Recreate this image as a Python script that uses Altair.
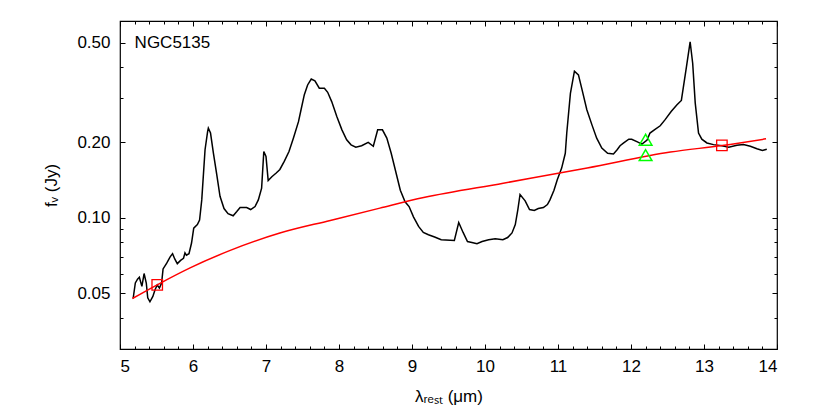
import altair as alt
import pandas as pd

# Spectrum (black)
spec_x = [5.18, 5.21, 5.24, 5.265, 5.30, 5.33, 5.36, 5.38, 5.41, 5.45, 5.48, 5.51, 5.54, 5.57,
          5.59, 5.64, 5.685, 5.72, 5.75, 5.785, 5.83, 5.87, 5.89, 5.91, 5.945, 5.98, 6.01, 6.06,
          6.09, 6.12, 6.165, 6.20, 6.21, 6.24, 6.28, 6.325, 6.37, 6.425, 6.48, 6.55, 6.60, 6.645,
          6.735, 6.79, 6.85, 6.895, 6.94, 6.97, 7.00, 7.03, 7.08, 7.14, 7.19, 7.25, 7.315, 7.375,
          7.445, 7.48, 7.525, 7.57, 7.62, 7.67, 7.73, 7.80, 7.845, 7.90, 7.97, 8.04, 8.105, 8.165,
          8.23, 8.31, 8.40, 8.47, 8.53, 8.595, 8.655, 8.715, 8.77, 8.84, 8.905, 8.96, 9.02, 9.09,
          9.155, 9.225, 9.31, 9.40, 9.58, 9.64, 9.70, 9.76, 9.82, 9.89, 9.96, 10.05, 10.14, 10.245,
          10.31, 10.37, 10.415, 10.45, 10.48, 10.55, 10.61, 10.675, 10.73, 10.80, 10.855, 10.89,
          10.945, 10.99, 11.05, 11.10, 11.12, 11.17, 11.225, 11.28, 11.33, 11.395, 11.465, 11.53,
          11.60, 11.68, 11.76, 11.81, 11.85, 11.90, 11.97, 12.01, 12.08, 12.15, 12.22, 12.26,
          12.32, 12.40, 12.465, 12.55, 12.63, 12.69, 12.76, 12.81, 12.845, 12.88, 12.925, 12.97,
          13.04, 13.13, 13.245, 13.34, 13.45, 13.54, 13.635, 13.725, 13.80, 13.86]
spec_y = [0.0477, 0.055, 0.057, 0.058, 0.0533, 0.060, 0.055, 0.048, 0.0463, 0.0486, 0.0517, 0.054,
          0.0525, 0.055, 0.0626, 0.066, 0.0698, 0.072, 0.0686, 0.0657, 0.0677, 0.069, 0.0725, 0.071,
          0.072, 0.0794, 0.091, 0.094, 0.098, 0.118, 0.187, 0.221, 0.228, 0.218, 0.181, 0.149, 0.122,
          0.109, 0.104, 0.102, 0.106, 0.110, 0.110, 0.108, 0.111, 0.118, 0.1315, 0.184, 0.176, 0.141,
          0.146, 0.151, 0.156, 0.168, 0.184, 0.208, 0.242, 0.270, 0.310, 0.339, 0.358, 0.352, 0.329,
          0.329, 0.317, 0.291, 0.2536, 0.2245, 0.2048, 0.1956, 0.1915, 0.194, 0.200, 0.193, 0.2245,
          0.2245, 0.208, 0.181, 0.156, 0.129, 0.116, 0.111, 0.101, 0.0925, 0.0875, 0.0857, 0.0839,
          0.0818, 0.0813, 0.0959, 0.0875, 0.0805, 0.0798, 0.0789, 0.0805, 0.0818, 0.0825, 0.0818,
          0.0835, 0.0871, 0.094, 0.108, 0.124, 0.117, 0.108, 0.107, 0.109, 0.110, 0.113, 0.118,
          0.129, 0.142, 0.158, 0.181, 0.218, 0.314, 0.385, 0.372, 0.324, 0.270, 0.235, 0.208,
          0.190, 0.181, 0.180, 0.187, 0.194, 0.199, 0.206, 0.206, 0.2016, 0.197, 0.2045, 0.218,
          0.2245, 0.233, 0.246, 0.2655, 0.2825, 0.294, 0.401, 0.504, 0.414, 0.287, 0.218, 0.206,
          0.199, 0.196, 0.194, 0.1915, 0.195, 0.196, 0.193, 0.1886, 0.1857, 0.188]

# Continuum model (red)
model_x = [5.17, 5.51, 5.96, 6.51, 7.19, 7.88, 8.56, 9.16, 10.25, 11.40, 12.54, 13.25, 13.85]
model_y = [0.0477, 0.0541, 0.0632, 0.0742, 0.0870, 0.0977, 0.1094, 0.1205, 0.1375, 0.158, 0.183,
           0.1945, 0.2067]

# Photometry points
sq_x = [5.51, 13.245]
sq_y = [0.0541, 0.1945]
tri_x = [12.2, 12.2]
tri_y = [0.205, 0.178]

label_x = [5.2]
label_y = [0.5]
label_text = ["NGC5135"]

x_major = list(range(5, 15))
x_minor = [round(5 + 0.2 * i, 1) for i in range(46) if i % 5 != 0]
y_major = [0.05, 0.1, 0.2, 0.5]
y_minor = [0.04, 0.06, 0.07, 0.08, 0.09, 0.3, 0.4]

spec_df = pd.DataFrame({"x": spec_x, "y": spec_y})
model_df = pd.DataFrame({"x": model_x, "y": model_y})
sq_df = pd.DataFrame({"x": sq_x, "y": sq_y})
tri_df = pd.DataFrame({"x": tri_x, "y": tri_y})
lab_df = pd.DataFrame({"x": label_x, "y": label_y, "t": label_text})

xs = alt.Scale(domain=[5, 14], nice=False, zero=False)
ys = alt.Scale(type="log", domain=[0.03, 0.61], nice=False)

FONT = "Liberation Sans"


def tick_axis(orient, values, size):
    return alt.Axis(orient=orient, values=values, tickSize=size, offset=-size, labels=False,
                    domain=False, grid=False, title=None, tickColor="black", tickWidth=1)


x_lab_axis = alt.Axis(orient="bottom", values=x_major, ticks=False, domain=False, grid=False,
                      labelFontSize=17, labelFont=FONT, labelColor="black", labelPadding=9,
                      format="d", title="λᵣₑₛₜ (μm)", titleFont=FONT, titleFontSize=17,
                      titleFontWeight="normal", titleColor="black", titlePadding=14)
y_lab_axis = alt.Axis(orient="left", values=y_major, ticks=False, domain=False, grid=False,
                      labelFontSize=17, labelFont=FONT, labelColor="black", labelPadding=10,
                      format=".2f", title="fᵥ (Jy)", titleFont=FONT, titleFontSize=17,
                      titleFontWeight="normal", titleColor="black", titlePadding=16)

spec = alt.Chart(spec_df).mark_line(color="black", strokeWidth=1.5).encode(
    x=alt.X("x:Q", scale=xs, axis=x_lab_axis),
    y=alt.Y("y:Q", scale=ys, axis=y_lab_axis),
)

model = alt.Chart(model_df).mark_line(color="red", strokeWidth=1.5, interpolate="monotone").encode(
    x=alt.X("x:Q", scale=xs, axis=tick_axis("bottom", x_major, 5)),
    y=alt.Y("y:Q", scale=ys, axis=tick_axis("left", y_major, 5)),
)

squares = alt.Chart(sq_df).mark_point(shape="square", size=110, color="red", filled=False,
                                      strokeWidth=1.3, opacity=1).encode(
    x=alt.X("x:Q", scale=xs, axis=tick_axis("bottom", x_minor, 3)),
    y=alt.Y("y:Q", scale=ys, axis=tick_axis("left", y_minor, 3)),
)

tris = alt.Chart(tri_df).mark_point(shape="triangle-up", size=160, color="#00ff00", filled=False,
                                    strokeWidth=1.5, opacity=1).encode(
    x=alt.X("x:Q", scale=xs, axis=tick_axis("top", x_major, 5)),
    y=alt.Y("y:Q", scale=ys, axis=tick_axis("right", y_major, 5)),
)

label = alt.Chart(lab_df).mark_text(align="left", baseline="middle", fontSize=17, font=FONT,
                                    color="black").encode(
    x=alt.X("x:Q", scale=xs, axis=tick_axis("top", x_minor, 3)),
    y=alt.Y("y:Q", scale=ys, axis=tick_axis("right", y_minor, 3)),
    text="t:N",
)

chart = alt.layer(spec, model, squares, tris, label).resolve_axis(
    x="independent", y="independent"
).properties(
    width=657, height=328,
    padding={"left": 112, "top": 13, "right": 45, "bottom": 62},
    autosize=alt.AutoSizeParams(type="none"),
    background="white",
).configure_view(stroke="black", strokeWidth=1.2)

chart.save("out.html", embed_options={"renderer": "svg", "actions": False})
